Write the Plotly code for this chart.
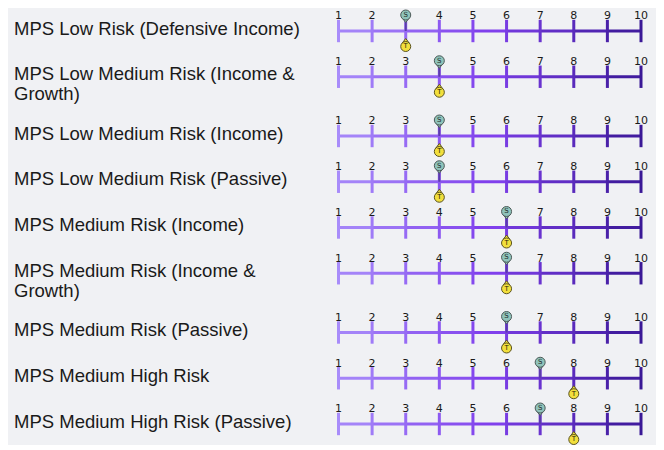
import plotly.graph_objects as go

# ---------------- data ----------------
categories = [
    "MPS Low Risk (Defensive Income)",
    "MPS Low Medium Risk (Income &<br>Growth)",
    "MPS Low Medium Risk (Income)",
    "MPS Low Medium Risk (Passive)",
    "MPS Medium Risk (Income)",
    "MPS Medium Risk (Income &<br>Growth)",
    "MPS Medium Risk (Passive)",
    "MPS Medium High Risk",
    "MPS Medium High Risk (Passive)",
]
s_values = [3, 4, 4, 4, 6, 6, 6, 7, 7]
t_values = [3, 4, 4, 4, 6, 6, 6, 8, 8]
scale_ticks = [1, 2, 3, 4, 5, 6, 7, 8, 9, 10]

# ---------------- layout helpers ----------------
OFF = 8  # page body margin
W, H = 664 - OFF, 450 - OFF
X1_PX, X10_PX = 338.5 - OFF, 641.0 - OFF
unit = (X10_PX - X1_PX) / 9.0
x_range = [1 - X1_PX / unit, 10 + (W - X10_PX) / unit]

# row line positions (pixel-like y units, axis reversed)
row_y = []
y = 31.0 - OFF
for lab in categories:
    row_y.append(y)
    n_lines = lab.count("<br>") + 1
    y += 45.75 + 13.5 * (n_lines - 1)


def lerp(c1, c2, t):
    return tuple(c1[i] + (c2[i] - c1[i]) * t for i in range(3))


stops = [(0.0, (168, 140, 250)), (0.5, (128, 64, 236)), (1.0, (58, 24, 150))]


def grad(t):
    for (t0, c0), (t1, c1) in zip(stops[:-1], stops[1:]):
        if t <= t1:
            c = lerp(c0, c1, (t - t0) / (t1 - t0))
            return "rgb(%d,%d,%d)" % tuple(round(v) for v in c)
    return "rgb(%d,%d,%d)" % stops[-1][1]


fig = go.Figure()

# gradient line segments: one trace per segment index
for i in range(len(scale_ticks) - 1):
    xs, ys = [], []
    for ry in row_y:
        xs += [scale_ticks[i], scale_ticks[i + 1], None]
        ys += [ry, ry, None]
    fig.add_trace(go.Scatter(
        x=xs, y=ys, mode="lines",
        line=dict(color=grad((i + 0.5) / 9.0), width=3),
        hoverinfo="skip", showlegend=False))

# tick marks
tx, ty, tc = [], [], []
for ry in row_y:
    for k, v in enumerate(scale_ticks):
        tx.append(v)
        ty.append(ry)
        tc.append(grad(k / 9.0))
fig.add_trace(go.Scatter(
    x=tx, y=ty, mode="markers",
    marker=dict(symbol="line-ns", size=16, line=dict(width=3, color=tc), color=tc),
    hoverinfo="skip", showlegend=False))

# connector lines from S pin to the line
cx, cy = [], []
for ry, s in zip(row_y, s_values):
    cx += [s, s, None]
    cy += [ry - 10, ry, None]
fig.add_trace(go.Scatter(
    x=cx, y=cy, mode="lines",
    line=dict(color="rgb(90,60,170)", width=2),
    hoverinfo="skip", showlegend=False))

# number labels (hidden where the S pin sits)
nx, ny, nt = [], [], []
for ry, s in zip(row_y, s_values):
    for v in scale_ticks:
        if v == s:
            continue
        nx.append(v)
        ny.append(ry - 14.5)
        nt.append(str(v))
fig.add_trace(go.Scatter(
    x=nx, y=ny, mode="text", text=nt, textposition="middle center",
    textfont=dict(family="DejaVu Sans", size=11, color="#1a1a1a"),
    hoverinfo="skip", showlegend=False))

# S pins
fig.add_trace(go.Scatter(
    x=s_values, y=[ry - 11.5 for ry in row_y], mode="markers",
    marker=dict(symbol="triangle-down", size=6, color="#8fc3ba",
                line=dict(width=1, color="#4d5a58")),
    hoverinfo="skip", showlegend=False))
fig.add_trace(go.Scatter(
    x=s_values, y=[ry - 16 for ry in row_y], mode="markers+text",
    text=["S"] * len(s_values), textposition="middle center",
    textfont=dict(family="DejaVu Sans", size=7, color="#1f2d2b"),
    marker=dict(symbol="circle", size=10, color="#8fc3ba",
                line=dict(width=1, color="#4d5a58")),
    hoverinfo="skip", showlegend=False))

# T pins
fig.add_trace(go.Scatter(
    x=t_values, y=[ry + 10.5 for ry in row_y], mode="markers",
    marker=dict(symbol="triangle-up", size=6, color="#f2df3c",
                line=dict(width=1, color="#5a5320")),
    hoverinfo="skip", showlegend=False))
fig.add_trace(go.Scatter(
    x=t_values, y=[ry + 15.5 for ry in row_y], mode="markers+text",
    text=["T"] * len(t_values), textposition="middle center",
    textfont=dict(family="DejaVu Sans", size=7, color="#2b2708"),
    marker=dict(symbol="circle", size=10, color="#f2df3c",
                line=dict(width=1, color="#5a5320")),
    hoverinfo="skip", showlegend=False))

# row labels
annotations = []
for lab, ry in zip(categories, row_y):
    for j, part in enumerate(lab.split("<br>")):
        annotations.append(dict(
            x=(12 - OFF) / W, xref="paper", y=ry - 3 + 20 * j, yref="y",
            text=part, showarrow=False, xanchor="left", yanchor="middle",
            font=dict(family="Liberation Sans, Arial", size=18.5, color="#1a1a1a")))

fig.update_layout(
    width=W, height=H,
    margin=dict(l=0, r=0, t=0, b=0),
    paper_bgcolor="white", plot_bgcolor="white",
    xaxis=dict(range=x_range, visible=False, fixedrange=True),
    yaxis=dict(range=[H, 0], visible=False, fixedrange=True),
    shapes=[dict(type="rect", xref="paper", yref="y", x0=0, x1=1,
                 y0=0, y1=445 - OFF,
                 fillcolor="#f0f1f4", line=dict(width=0), layer="below")],
    annotations=annotations,
)

fig.write_html("out.html")
